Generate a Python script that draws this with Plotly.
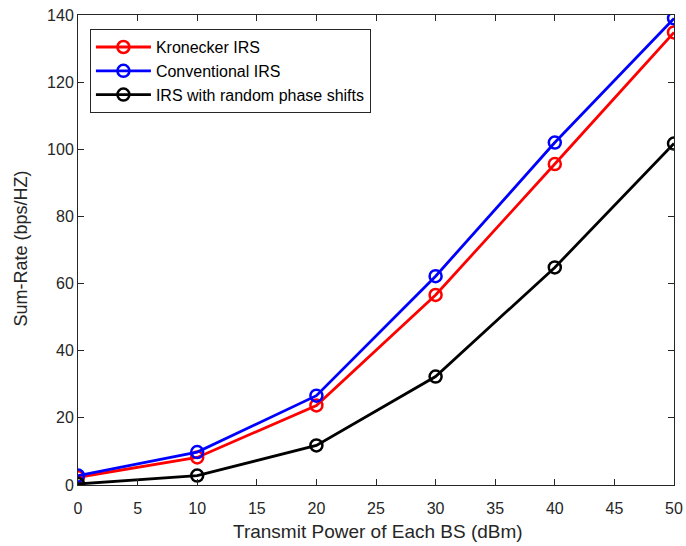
import plotly.graph_objects as go

power = [0, 10, 20, 30, 40, 50]
kronecker = [2.3, 8.2, 23.7, 56.6, 95.6, 134.8]
conventional = [2.8, 9.8, 26.6, 62.2, 102.0, 139.0]
random_phase = [0.3, 2.8, 11.8, 32.3, 64.8, 101.7]

names = ["Kronecker IRS", "Conventional IRS", "IRS with random phase shifts"]
colors = ["#ff0000", "#0000ff", "#000000"]

FONT = "Liberation Sans, Arial, Helvetica"
TXT = "#262626"

fig = go.Figure()
for name, ys, c in zip(names, [kronecker, conventional, random_phase], colors):
    fig.add_trace(go.Scatter(
        x=power, y=ys, mode="lines+markers", name=name,
        line=dict(color=c, width=2.8),
        marker=dict(symbol="circle-open", size=12, color=c, line=dict(width=2.5, color=c)),
    ))

axis_common = dict(
    showgrid=False, zeroline=False, showline=True, linecolor=TXT, linewidth=1,
    mirror="ticks", ticks="inside", ticklen=6, tickcolor=TXT, automargin=False,
    tickfont=dict(family=FONT, size=16, color=TXT),
)
fig.update_xaxes(range=[0, 50], tickvals=list(range(0, 51, 5)), ticklabelstandoff=9, **axis_common)
fig.update_yaxes(range=[0, 140], tickvals=list(range(0, 141, 20)), **axis_common)

fig.add_annotation(text="Transmit Power of Each BS (dBm)", xref="paper", yref="paper",
                   x=0.504, y=0, xanchor="center", yanchor="middle", yshift=-46,
                   showarrow=False, font=dict(family=FONT, size=19, color=TXT))
fig.add_annotation(text="Sum-Rate (bps/HZ)", xref="paper", yref="paper",
                   x=0, y=0.503, xanchor="center", yanchor="middle", xshift=-57,
                   textangle=-90, showarrow=False, font=dict(family=FONT, size=18, color=TXT))

fig.update_layout(
    width=686, height=546,
    margin=dict(l=78, r=12, t=15, b=61),
    paper_bgcolor="white", plot_bgcolor="white",
    font=dict(family=FONT, size=16, color=TXT),
    legend=dict(x=0.02, y=0.97, xanchor="left", yanchor="top",
                bordercolor=TXT, borderwidth=1, bgcolor="white", itemwidth=55,
                font=dict(family=FONT, size=16, color="#000000"), tracegroupgap=0),
    showlegend=True,
)

fig.write_html("out.html")
